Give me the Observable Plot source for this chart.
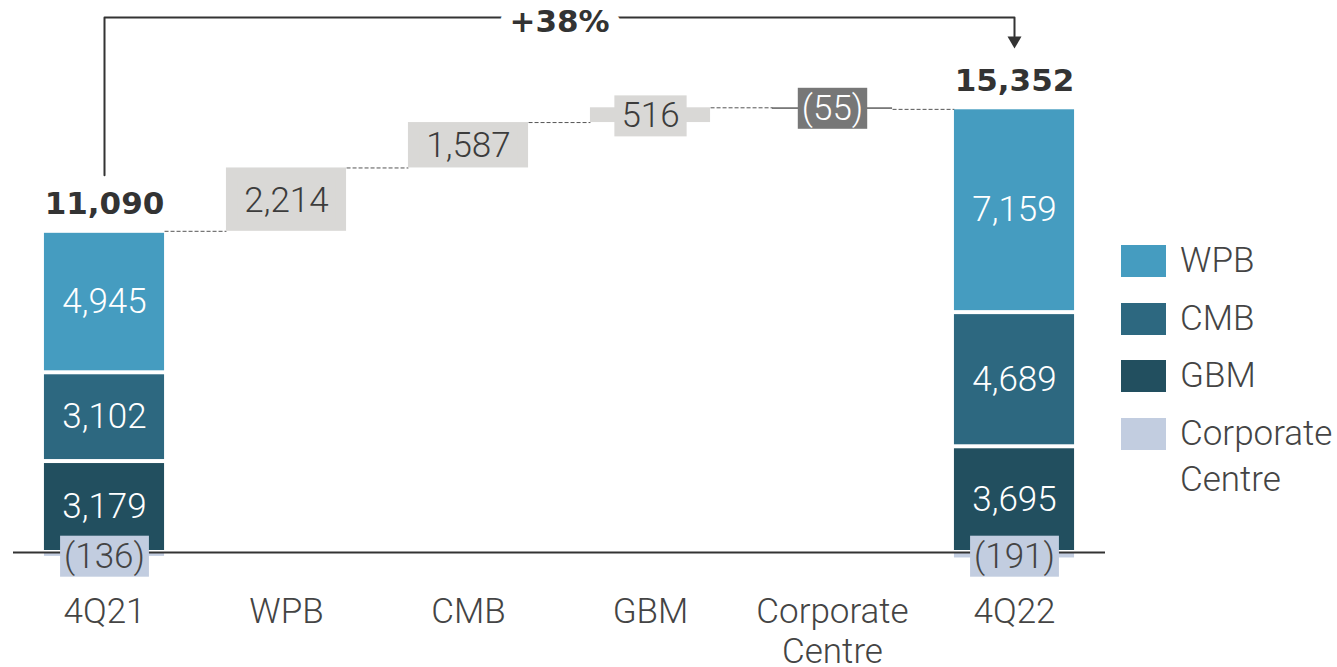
<!DOCTYPE html>
<html><head><meta charset="utf-8">
<script src="https://cdn.jsdelivr.net/npm/d3@7"></script>
<script src="https://cdn.jsdelivr.net/npm/@observablehq/plot@0.6"></script>
<style>
html,body{margin:0;padding:0;background:#fff;}
#wrap{position:relative;width:1337px;height:667px;overflow:hidden;font-family:Roboto,"Noto Sans",sans-serif;}
#chart{position:absolute;left:0;top:0;}
#legend{position:absolute;left:1121px;top:245px;width:216px;height:300px;}
.row{position:absolute;left:0;}
.sw{position:absolute;left:0;top:0;width:45px;height:32px;}
.lt{position:absolute;left:59px;top:-7px;font-size:35px;font-weight:300;color:#444;line-height:46px;white-space:nowrap;}
</style></head><body><div id="wrap"><div id="chart"></div><div id="legend"></div></div>
<script>
// ---- data ----
const categories = ["4Q21", "WPB", "CMB", "GBM", "Corporate Centre", "4Q22"];
const segments = ["GBM", "CMB", "WPB", "Corporate Centre"];
const segColors = ["#224f5f", "#2d6880", "#459cc0", "#c2cde0"];
const q421 = [3179, 3102, 4945, -136];
const q422 = [3695, 4689, 7159, -191];
const totals = [11090, 15352];
const deltas = [2214, 1587, 516, -55];
const changeLabel = "+38%";
const legendOrder = ["WPB", "CMB", "GBM", "Corporate Centre"];

// ---- layout helpers ----
const W = 1337, H = 667, mTop = 37, mBottom = 115, mLeft = 13, mRight = 232;
const yMax = 18000;
const k = (H - mTop - mBottom) / yMax;   // px per unit
const px = p => p / k;                    // pixels -> data units
const half = 0.33;
const fmt = d3.format(",");
const lab = v => v < 0 ? `(${fmt(-v)})` : fmt(v);
const colorOf = s => segColors[segments.indexOf(s)];

// stacked columns
const stackRows = [];
const tops = [];
[[0, q421], [5, q422]].forEach(([xi, vals]) => {
  let pos = 0;
  vals.forEach((v, j) => {
    if (v >= 0) { stackRows.push({x: xi, y1: pos, y2: pos + v, seg: segments[j], v}); pos += v; }
    else stackRows.push({x: xi, y1: v, y2: 0, seg: segments[j], v});
  });
  tops.push(pos);
});
const posRows = stackRows.filter(d => d.v >= 0);
const negRows = stackRows.filter(d => d.v < 0);

// waterfall
const wf = [];
const connectors = [];
let level = tops[0];
connectors.push({xa: 0, xb: 1, y: level});
deltas.forEach((d, i) => {
  const a = level, b = level + d;
  wf.push({x: i + 1, y1: Math.min(a, b), y2: Math.max(a, b), v: d, mid: (a + b) / 2});
  level = b;
  connectors.push({xa: i + 1, xb: i + 2, y: level});
});
const wfPos = wf.filter(d => d.v >= 0), wfNeg = wf.filter(d => d.v < 0);

const totalRows = [{x: 0, y: tops[0], t: totals[0]}, {x: 5, y: tops[1], t: totals[1]}];
const arrowTopY = px(535);
const arrowPts = [
  {x: 0, y: tops[0] + px(56)},
  {x: 0, y: arrowTopY},
  {x: 5, y: arrowTopY},
  {x: 5, y: px(516)}
];

const chart = Plot.plot({
  width: W, height: H,
  marginLeft: mLeft, marginRight: mRight, marginTop: mTop, marginBottom: mBottom,
  x: {domain: [-0.5, 5.5], axis: null},
  y: {domain: [0, yMax], axis: null},
  style: {fontFamily: "Roboto, sans-serif", background: "white", overflow: "visible"},
  marks: [
    // dashed connectors
    Plot.link(connectors, {x1: d => d.xa + half, x2: d => d.xb - half, y1: "y", y2: "y",
      stroke: "#555", strokeWidth: 1, strokeDasharray: "4,2"}),
    // stacked segments
    Plot.rect(posRows, {x1: d => d.x - half, x2: d => d.x + half, y1: "y1", y2: "y2",
      fill: d => colorOf(d.seg), insetTop: 2, insetBottom: 2}),
    Plot.rect(negRows, {x1: d => d.x - half, x2: d => d.x + half, y1: "y1", y2: "y2",
      fill: d => colorOf(d.seg)}),
    // waterfall bars
    Plot.rect(wfPos, {x1: d => d.x - half, x2: d => d.x + half, y1: "y1", y2: "y2", fill: "#d9d8d6"}),
    Plot.rect(wfNeg, {x1: d => d.x - half, x2: d => d.x + half, y1: "y1", y2: "y2", fill: "#666"}),
    // baseline
    Plot.ruleY([0], {stroke: "#333", strokeWidth: 2}),
    // segment labels
    Plot.text(posRows, {x: "x", y: d => (d.y1 + d.y2) / 2, text: d => lab(d.v),
      fill: "white", fontSize: 35, fontWeight: 300}),
    Plot.text(negRows, {x: "x", y: 0, dy: 4, text: d => lab(d.v),
      fill: "#444", fontSize: 35, fontWeight: 300, className: "box-cc"}),
    // waterfall labels
    Plot.text(wfPos, {x: "x", y: "mid", dy: 1, text: d => lab(d.v),
      fill: "#3c3c3c", fontSize: 35, fontWeight: 300, className: "box-grey"}),
    Plot.text(wfNeg, {x: "x", y: "mid", text: d => lab(d.v),
      fill: "white", fontSize: 35, fontWeight: 300, className: "box-dark"}),
    // totals
    Plot.text(totalRows, {x: "x", y: "y", dy: -27, text: d => fmt(d.t),
      fill: "#333", fontSize: 31, fontWeight: "bold", fontFamily: "DejaVu Sans"}),
    // arrow
    Plot.line(arrowPts, {x: "x", y: "y", stroke: "#333", strokeWidth: 2, curve: "linear"}),
    Plot.dot([{x: 5, y: px(512)}], {x: "x", y: "y", symbol: "triangle", r: 5.2, rotate: 180,
      fill: "#333", stroke: null}),
    Plot.text([changeLabel], {frameAnchor: "top", lineAnchor: "middle", dy: -15, text: d => d,
      fill: "#333", stroke: "white", strokeWidth: 24, fontSize: 31, fontWeight: "bold",
      fontFamily: "DejaVu Sans"}),
    // x axis
    Plot.axisX({ticks: d3.range(categories.length), tickFormat: i => categories[i].replace(" ", "\n"),
      tickSize: 0, tickPadding: 42, fontSize: 35, fill: "#444", lineHeight: 1.15, fontWeight: 300,
      label: null})
  ]
});
document.getElementById("chart").appendChild(chart);

// label background boxes
function addBoxes(cls, fill, padX) {
  chart.querySelectorAll(`g.${cls} text`).forEach(t => {
    const bb = t.getBBox();
    const r = document.createElementNS("http://www.w3.org/2000/svg", "rect");
    const h = 41;
    r.setAttribute("x", bb.x - padX);
    r.setAttribute("y", bb.y + bb.height / 2 - h / 2);
    r.setAttribute("width", bb.width + 2 * padX);
    r.setAttribute("height", h);
    r.setAttribute("fill", fill);
    const tr = t.getAttribute("transform");
    if (tr) r.setAttribute("transform", tr);
    t.parentNode.insertBefore(r, t);
  });
}
addBoxes("box-grey", "#d9d8d6", 7);
addBoxes("box-dark", "#777777", 4);
addBoxes("box-cc", "#c2cde0", 4);

// legend
const leg = d3.select("#legend");
legendOrder.forEach((s, i) => {
  const row = leg.append("div").attr("class", "row").style("top", `${i * 57.5}px`);
  row.append("div").attr("class", "sw").style("background", colorOf(s));
  row.append("div").attr("class", "lt").html(s.replace(" ", "<br>"));
});
</script></body></html>
